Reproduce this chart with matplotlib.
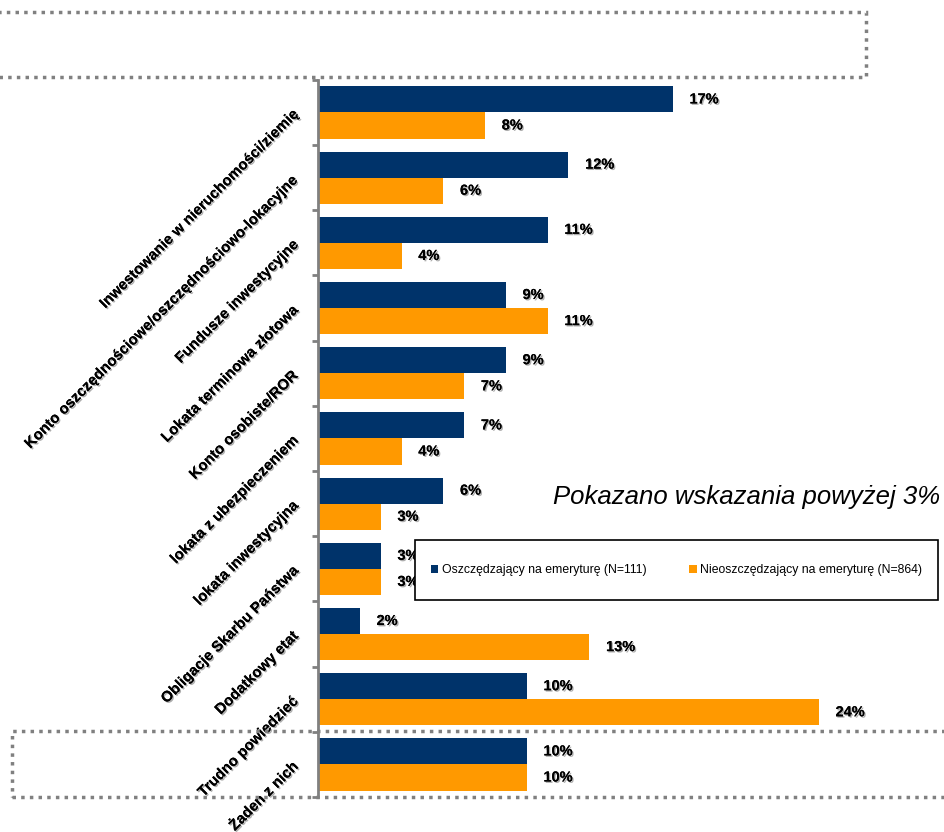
import matplotlib
matplotlib.use('Agg')
import matplotlib.pyplot as plt
import matplotlib.patheffects as pe
from matplotlib.patches import Rectangle
import numpy as np

plt.rcParams['font.family'] = ['Liberation Sans', 'DejaVu Sans']

categories = [
    'Inwestowanie w nieruchomości/ziemię',
    'Konto oszczędnościowe/oszczędnościowo-lokacyjne',
    'Fundusze inwestycyjne',
    'Lokata terminowa złotowa',
    'Konto osobiste/ROR',
    'lokata z ubezpieczeniem',
    'lokata inwestycyjna',
    'Obligacje Skarbu Państwa',
    'Dodatkowy etat',
    'Trudno powiedzieć',
    'Żaden z nich',
]
saving = [17, 12, 11, 9, 9, 7, 6, 3, 2, 10, 10]
not_saving = [8, 6, 4, 11, 7, 4, 3, 3, 13, 24, 10]
series_names = ['Oszczędzający na emeryturę (N=111)', 'Nieoszczędzający na emeryturę (N=864)']

navy = '#00336A'
orange = '#FF9900'
grey = '#808080'

fig = plt.figure(figsize=(9.44, 8.32), dpi=100)
ax = fig.add_axes([0.337, 0.042, 0.663, 0.862])

y = np.arange(len(categories))
h = 0.4
ax.barh(y - h / 2, saving, height=h, color=navy, label=series_names[0])
ax.barh(y + h / 2, not_saving, height=h, color=orange, label=series_names[1])

ax.set_xlim(0, 30)
ax.set_ylim(len(categories) - 0.5, -0.5)

shadow = [pe.withSimplePatchShadow(offset=(1, -1), shadow_rgbFace='#777777', alpha=0.6), pe.Normal()]

# value labels
for i in range(len(categories)):
    ax.text(saving[i] + 0.8, y[i] - h / 2, '%d%%' % saving[i], va='center', ha='left',
            fontsize=10.5, fontweight='bold', path_effects=shadow)
    ax.text(not_saving[i] + 0.8, y[i] + h / 2, '%d%%' % not_saving[i], va='center', ha='left',
            fontsize=10.5, fontweight='bold', path_effects=shadow)

# axis styling
for s in ['top', 'right', 'bottom']:
    ax.spines[s].set_visible(False)
ax.spines['left'].set_color(grey)
ax.spines['left'].set_linewidth(2)
ax.set_xticks([])
ax.set_yticks(y)
ax.set_yticklabels(categories, rotation=45, ha='right', va='center', rotation_mode='anchor',
                   fontsize=10.8, fontweight='bold')
for lbl in ax.get_yticklabels():
    lbl.set_path_effects(shadow)
ax.tick_params(axis='y', which='major', length=0, pad=16)
ax.set_yticks(np.arange(-0.5, len(categories)), minor=True)
ax.tick_params(axis='y', which='minor', length=4, width=2, color=grey)

# dotted boxes
fig.patches.append(Rectangle((-0.005, 0.9075), 0.922, 0.078, transform=fig.transFigure,
                             fill=False, edgecolor=grey, lw=2.5, linestyle=(0, (1, 1.5))))
fig.patches.append(Rectangle((0.013, 0.042), 1.0, 0.079, transform=fig.transFigure,
                             fill=False, edgecolor=grey, lw=2.5, linestyle=(0, (1, 1.5))))

# legend box
fig.patches.append(Rectangle((0.4396, 0.2788), 0.554, 0.072, transform=fig.transFigure,
                             facecolor='white', edgecolor='black', lw=1.2, zorder=5))
leg = fig.legend(loc='center', bbox_to_anchor=(0.4396 + 0.554 / 2, 0.2788 + 0.036), ncol=2,
                 frameon=False, fontsize=8.8, handlelength=0.6, handleheight=0.6,
                 handletextpad=0.3, columnspacing=3.5)
leg.set_zorder(6)

fig.text(0.996, 0.4026, 'Pokazano wskazania powyżej 3%', ha='right', va='center',
         fontsize=18.5, style='italic')

fig.savefig('out.png', dpi=100)
